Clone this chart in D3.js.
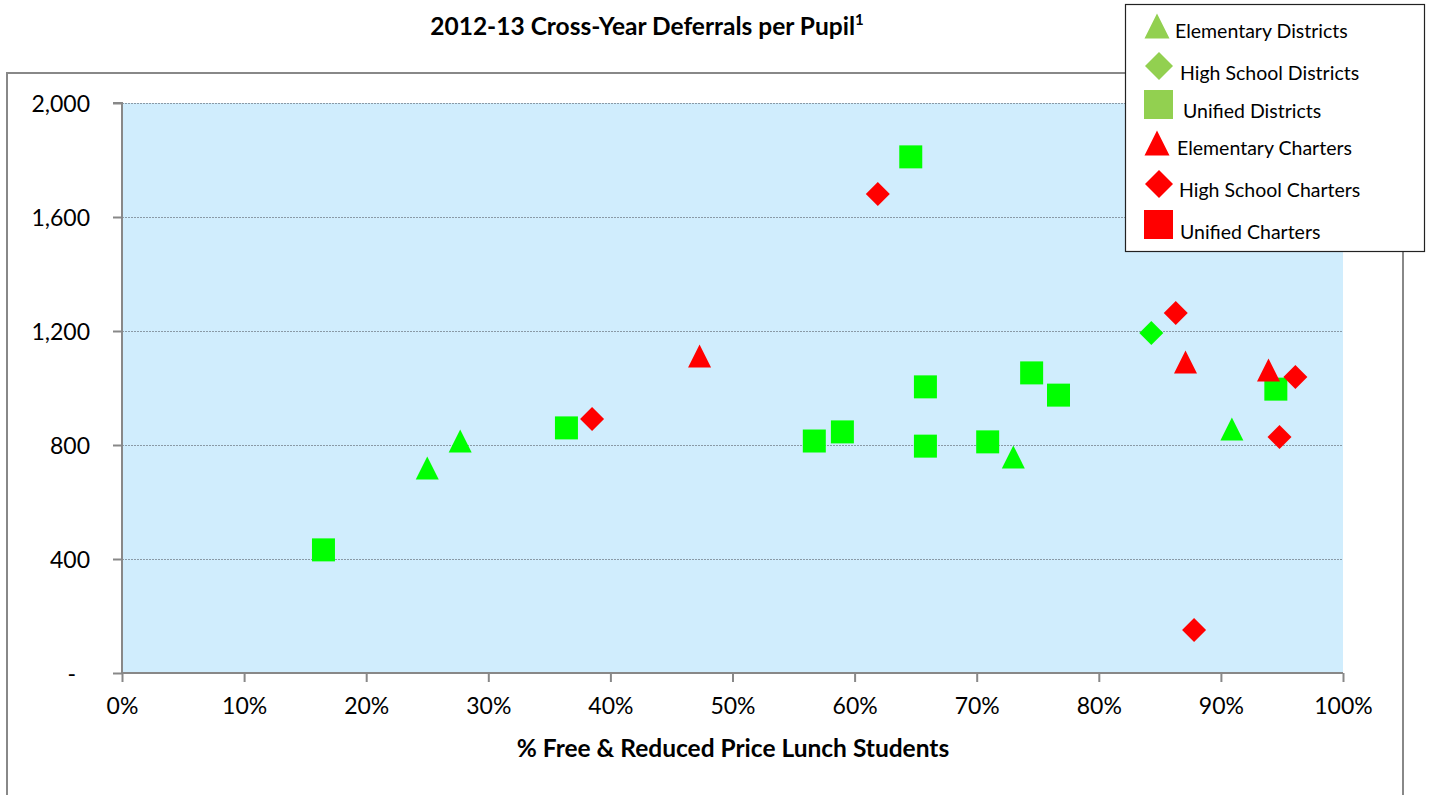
<!DOCTYPE html>
<html><head><meta charset="utf-8">
<script src="https://cdn.jsdelivr.net/npm/d3@7"></script>
<style>
html,body{margin:0;padding:0;background:#fff;}
svg text{font-family:Lato,"Open Sans",sans-serif;fill:#000;}
</style></head>
<body>
<svg id="chart" width="1429" height="795"></svg>
<script>
// ---- data ----
const seriesNames = ["Elementary Districts","High School Districts","Unified Districts","Elementary Charters","High School Charters","Unified Charters"];
const elemDistX = [25.0, 27.7, 73.0, 90.9];
const elemDistY = [719, 814, 758, 856];
const hsDistX = [84.3];
const hsDistY = [1193];
const unifDistX = [16.5, 36.4, 56.7, 59.0, 64.6, 65.8, 65.8, 70.9, 74.5, 76.7, 94.5];
const unifDistY = [432, 860, 814, 846, 1811, 1004, 796, 811, 1053, 975, 996];
const elemChartX = [47.3, 87.1, 93.9];
const elemChartY = [1112, 1091, 1063];
const hsChartX = [38.5, 61.9, 86.3, 96.1, 94.8, 87.8];
const hsChartY = [891, 1681, 1263, 1039, 828, 151];
const unifChartX = [];
const unifChartY = [];
const xTicks = [0,10,20,30,40,50,60,70,80,90,100];
const yTicks = [0,400,800,1200,1600,2000];
const titleText = "2012-13 Cross-Year Deferrals per Pupil";
const xAxisTitle = "% Free & Reduced Price Lunch Students";

const series = [
  {name:seriesNames[0], xs:elemDistX, ys:elemDistY, shape:"tri", color:"#00FF00", legColor:"#92D050"},
  {name:seriesNames[1], xs:hsDistX, ys:hsDistY, shape:"dia", color:"#00FF00", legColor:"#92D050"},
  {name:seriesNames[2], xs:unifDistX, ys:unifDistY, shape:"sq", color:"#00FF00", legColor:"#92D050"},
  {name:seriesNames[3], xs:elemChartX, ys:elemChartY, shape:"tri", color:"#FF0000", legColor:"#FF0000"},
  {name:seriesNames[4], xs:hsChartX, ys:hsChartY, shape:"dia", color:"#FF0000", legColor:"#FF0000"},
  {name:seriesNames[5], xs:unifChartX, ys:unifChartY, shape:"sq", color:"#FF0000", legColor:"#FF0000"}
];

const svg = d3.select("#chart");
const L=122, R=1343, T=103, B=673;
const x = d3.scaleLinear().domain([0,100]).range([L,R]);
const y = d3.scaleLinear().domain([0,2000]).range([B,T]);

// outer chart border
svg.append("rect").attr("x",7).attr("y",73).attr("width",1396).attr("height",740)
  .attr("fill","none").attr("stroke","#888").attr("stroke-width",2);

// plot area
svg.append("rect").attr("x",L).attr("y",T).attr("width",R-L).attr("height",B-T).attr("fill","#D0EDFD");

// gridlines
svg.append("g").selectAll("line").data(yTicks.filter(d=>d>0)).join("line")
  .attr("x1",L).attr("x2",R).attr("y1",d=>y(d)+0.5).attr("y2",d=>y(d)+0.5)
  .attr("stroke","#8a9aa6").attr("stroke-width",1).attr("stroke-dasharray","2,1");

// y axis
const yAxis = d3.axisLeft(y).tickValues(yTicks).tickSize(9).tickPadding(23)
  .tickFormat(d=> d===0 ? "-" : d3.format(",")(d));
const gy = svg.append("g").attr("transform",`translate(${L},0)`).call(yAxis);
gy.select(".domain").attr("stroke","#888").attr("stroke-width",2).attr("d",`M-9,${T}H0V${B}`);
gy.selectAll(".tick line").attr("stroke","#888").attr("stroke-width",2);
gy.selectAll(".tick text").style("font-size","23px").attr("font-family","Lato").attr("dy","0.35em");
gy.selectAll(".tick").filter(d=>d===0).select("text").attr("dx","-14");

// x axis
const xAxis = d3.axisBottom(x).tickValues(xTicks).tickSize(9).tickPadding(16).tickFormat(d=>d+"%");
const gx = svg.append("g").attr("transform",`translate(0,${B})`).call(xAxis);
gx.select(".domain").attr("stroke","#888").attr("stroke-width",2).attr("d",`M${L},0H${R}`);
gx.selectAll(".tick line").attr("stroke","#888").attr("stroke-width",2);
gx.selectAll(".tick text").style("font-size","23px").attr("font-family","Lato");

// marker paths
function shapePath(shape, s){
  const h=s/2;
  if(shape==="sq") return `M${-h},${-h}H${h}V${h}H${-h}Z`;
  if(shape==="dia") return `M0,${-h}L${h},0L0,${h}L${-h},0Z`;
  return `M0,${-h}L${h},${h}L${-h},${h}Z`;
}

// points
series.forEach(s=>{
  const pts = s.xs.map((v,i)=>({x:v,y:s.ys[i]}));
  svg.append("g").selectAll("path").data(pts).join("path")
    .attr("transform",d=>`translate(${x(d.x)},${y(d.y)})`)
    .attr("d",shapePath(s.shape, s.shape==="dia"?24:23))
    .attr("fill",s.color);
});

// title
const t = svg.append("text").attr("x",647).attr("y",35).attr("text-anchor","middle")
  .style("font-size","24.5px").style("font-weight","bold");
t.append("tspan").text(titleText);
t.append("tspan").attr("dy",-10).style("font-size","15px").text("1");

// x axis title
svg.append("text").attr("x",733).attr("y",757).attr("text-anchor","middle")
  .style("font-size","24.5px").style("font-weight","bold").text(xAxisTitle);

// legend
const lg = svg.append("g");
lg.append("rect").attr("x",1125.5).attr("y",4.5).attr("width",299).attr("height",247)
  .attr("fill","#fff").attr("stroke","#222").attr("stroke-width",1.2);
const legSym = [[1157,26,25],[1159,66,28],[1158.5,104.5,29],[1157,143,25],[1159,184,28],[1158.5,224.5,29]];
const legText = [[1175,38],[1180,80],[1183,118],[1177,155],[1179,197],[1180,239]];
series.forEach((s,i)=>{
  lg.append("path").attr("transform",`translate(${legSym[i][0]},${legSym[i][1]})`)
    .attr("d",shapePath(s.shape, legSym[i][2])).attr("fill",s.legColor);
  lg.append("text").attr("x",legText[i][0]).attr("y",legText[i][1])
    .style("font-size","19.5px").text(s.name);
});
</script>
</body></html>
